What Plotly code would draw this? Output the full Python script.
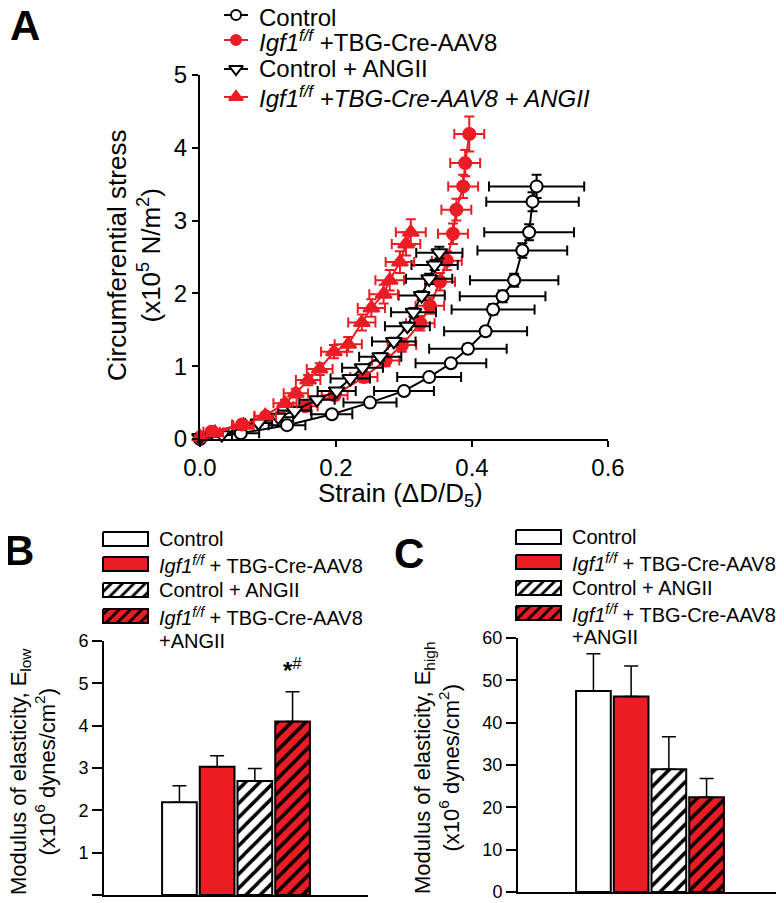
import plotly.graph_objects as go

W, H = 784, 903
OFF = 8  # page body margin: the figure div starts 8 px in from the window corner
FW, FH = W - OFF, H - OFF
RED = "#EC1C24"
FONT = "Arial, Liberation Sans, sans-serif"

# ---- panel A data: strain / stress curves (mean +- SEM)
ctrl_strain = [0.0, 0.060, 0.128, 0.194, 0.250, 0.300, 0.337, 0.369, 0.394, 0.420, 0.431, 0.445, 0.462, 0.474, 0.484, 0.489, 0.495]
ctrl_stress = [0.0, 0.08, 0.19, 0.34, 0.50, 0.66, 0.85, 1.04, 1.24, 1.48, 1.78, 1.96, 2.18, 2.59, 2.84, 3.26, 3.47]
ctrl_xerr = [0.0, 0.027, 0.027, 0.030, 0.039, 0.044, 0.047, 0.052, 0.057, 0.061, 0.061, 0.063, 0.065, 0.066, 0.066, 0.068, 0.070]
ctrl_yerr = [0.0, 0.02, 0.03, 0.03, 0.04, 0.04, 0.05, 0.05, 0.06, 0.06, 0.07, 0.08, 0.09, 0.10, 0.11, 0.13, 0.16]

igf_strain = [0.0, 0.017, 0.062, 0.097, 0.155, 0.198, 0.241, 0.273, 0.297, 0.324, 0.338, 0.353, 0.363, 0.372, 0.377, 0.387, 0.390, 0.396]
igf_stress = [0.02, 0.10, 0.20, 0.31, 0.45, 0.60, 0.85, 1.08, 1.29, 1.59, 1.83, 2.16, 2.45, 2.82, 3.15, 3.47, 3.79, 4.19]
igf_xerr = [0.005, 0.012, 0.015, 0.017, 0.018, 0.019, 0.020, 0.020, 0.021, 0.021, 0.021, 0.022, 0.022, 0.022, 0.022, 0.022, 0.022, 0.022]
igf_yerr = [0.0, 0.02, 0.03, 0.04, 0.05, 0.06, 0.07, 0.08, 0.09, 0.10, 0.11, 0.12, 0.13, 0.14, 0.15, 0.16, 0.18, 0.24]

ang_strain = [0.0, 0.032, 0.086, 0.115, 0.139, 0.172, 0.201, 0.221, 0.239, 0.265, 0.285, 0.305, 0.314, 0.326, 0.337, 0.345, 0.352]
ang_stress = [0.02, 0.06, 0.22, 0.30, 0.39, 0.54, 0.66, 0.83, 0.98, 1.13, 1.34, 1.55, 1.74, 1.97, 2.20, 2.39, 2.56]
ang_xerr = [0.008, 0.015, 0.020, 0.022, 0.024, 0.026, 0.028, 0.029, 0.030, 0.031, 0.032, 0.033, 0.033, 0.034, 0.034, 0.034, 0.034]
ang_yerr = [0.0, 0.02, 0.02, 0.03, 0.03, 0.03, 0.04, 0.04, 0.04, 0.05, 0.05, 0.05, 0.06, 0.06, 0.07, 0.07, 0.08]

igfang_strain = [0.0, 0.022, 0.064, 0.096, 0.125, 0.141, 0.159, 0.176, 0.197, 0.218, 0.238, 0.252, 0.270, 0.279, 0.294, 0.303, 0.310]
igfang_stress = [0.03, 0.09, 0.19, 0.32, 0.49, 0.63, 0.81, 0.96, 1.20, 1.30, 1.60, 1.80, 1.99, 2.18, 2.43, 2.68, 2.84]
igfang_xerr = [0.006, 0.012, 0.015, 0.016, 0.017, 0.018, 0.018, 0.019, 0.019, 0.020, 0.020, 0.020, 0.021, 0.021, 0.021, 0.021, 0.022]
igfang_yerr = [0.0, 0.02, 0.03, 0.04, 0.05, 0.06, 0.07, 0.08, 0.09, 0.10, 0.11, 0.12, 0.13, 0.14, 0.15, 0.16, 0.18]

# ---- panels B, C data: modulus of elasticity bars
groups = ["Control", "Igf1 f/f + TBG-Cre-AAV8", "Control + ANGII", "Igf1 f/f + TBG-Cre-AAV8 + ANGII"]
e_low = [2.19, 3.03, 2.69, 4.10]
e_low_err = [0.39, 0.26, 0.30, 0.70]
e_high = [47.5, 46.2, 29.0, 22.4]
e_high_err = [8.8, 7.2, 7.7, 4.4]

bar_colors = ["white", RED, "white", RED]
bar_hatch = ["", "", "/", "/"]


def px(x):
    return (x - OFF) / FW


def py(y):
    return 1 - (y - OFF) / FH


def hatch_style(shape, col, size):
    if not shape:
        return dict(shape="")
    return dict(shape=shape, fgcolor="black", bgcolor=col, fgopacity=1, size=size,
                solidity=0.35, fillmode="replace")


fig = go.Figure()

series = [
    (ctrl_strain, ctrl_stress, ctrl_xerr, ctrl_yerr, "black", "circle", "white", 12),
    (igf_strain, igf_stress, igf_xerr, igf_yerr, RED, "circle", RED, 12),
    (ang_strain, ang_stress, ang_xerr, ang_yerr, "black", "triangle-down", "white", 14),
    (igfang_strain, igfang_stress, igfang_xerr, igfang_yerr, RED, "triangle-up", RED, 14),
]
for sx, sy, ex, ey, col, sym, fill, size in series:
    fig.add_trace(go.Scatter(
        x=sx, y=sy, mode="lines+markers", xaxis="x", yaxis="y",
        line=dict(color=col, width=2),
        marker=dict(symbol=sym, size=size, color=fill, line=dict(color=col, width=2)),
        error_x=dict(type="data", array=ex, color=col, thickness=2, width=5),
        error_y=dict(type="data", array=ey, color=col, thickness=2, width=5),
        cliponaxis=False, showlegend=False,
    ))

# one bar trace per group so every bar keeps its own hatch settings
for vals, errs, xa, ya in [(e_low, e_low_err, "x2", "y2"), (e_high, e_high_err, "x3", "y3")]:
    for i in range(len(groups)):
        fig.add_trace(go.Bar(
            x=[i], y=[vals[i]], xaxis=xa, yaxis=ya, width=0.92, name=groups[i],
            marker=dict(color=bar_colors[i], line=dict(color="black", width=2),
                        pattern=hatch_style(bar_hatch[i], bar_colors[i], 10)),
            error_y=dict(type="data", array=[errs[i]], arrayminus=[0], symmetric=False,
                         color="black", thickness=1.5, width=7),
            showlegend=False,
        ))

# ---- legend glyphs drawn on a full-page overlay axis (window pixel units)
leg_a_rows = [15, 40, 69, 97]
for (sx, sy, ex, ey, col, sym, fill, size), ry in zip(series, leg_a_rows):
    fig.add_trace(go.Scatter(x=[224, 248], y=[ry, ry], mode="lines", xaxis="x4", yaxis="y4",
                             line=dict(color=col, width=2), showlegend=False))
    fig.add_trace(go.Scatter(x=[236], y=[ry], mode="markers", xaxis="x4", yaxis="y4",
                             marker=dict(symbol=sym, size=size - 2, color=fill,
                                         line=dict(color=col, width=2)), showlegend=False))

for x0, rows in [(103, [539, 564, 590, 616]), (516, [537, 562, 588, 613])]:
    for ry, col, hatch in zip(rows, bar_colors, bar_hatch):
        fig.add_trace(go.Scatter(
            x=[x0, x0 + 45, x0 + 45, x0, x0], y=[ry - 7, ry - 7, ry + 7, ry + 7, ry - 7],
            mode="lines", fill="toself", fillcolor=col, xaxis="x4", yaxis="y4",
            fillpattern=dict(shape=hatch, fgcolor="black", bgcolor=col, fgopacity=1, size=8,
                             solidity=0.35, fillmode="overlay"),
            line=dict(color="black", width=2), showlegend=False))

ann = []


def text(x, y, s, size, xanchor="left", angle=0):
    ann.append(dict(x=px(x), y=py(y), xref="paper", yref="paper", text=s, showarrow=False,
                    xanchor=xanchor, yanchor="middle", textangle=angle, borderpad=0,
                    font=dict(size=size, color="black", family=FONT)))


# panel letters
text(25, 25, "<b>A</b>", 42, "center")
text(19, 550, "<b>B</b>", 42, "center")
text(409, 553, "<b>C</b>", 42, "center")

# panel A legend
igf = "<i>Igf1<sup>f/f</sup></i>"
text(258, 17, "Control", 24)
text(258, 41, igf + " +TBG-Cre-AAV8", 24)
text(258, 69, "Control + ANGII", 24)
text(258, 97, "<i>Igf1<sup>f/f</sup> +TBG-Cre-AAV8 + ANGII</i>", 24)

# panel B / C legends
for x0, rows, y5 in [(158, [539, 564, 590, 616], 641), (571, [537, 562, 588, 613], 637)]:
    text(x0, rows[0], "Control", 20)
    text(x0, rows[1], igf + " + TBG-Cre-AAV8", 20)
    text(x0, rows[2], "Control + ANGII", 20)
    text(x0, rows[3], igf + " + TBG-Cre-AAV8", 20)
    text(x0, y5, "+ANGII", 20)

# axis titles
text(134, 256, "Circumferential stress<br>(x10<sup>5</sup> N/m<sup>2</sup>)", 26, "center", -90)
text(400, 494, "Strain (ΔD/D<sub>5</sub>)", 26, "center")
text(33, 772, "Modulus of elasticity, E<sub>low</sub><br>(x10<sup>6</sup> dynes/cm<sup>2</sup>)", 22, "center", -90)
text(437, 768, "Modulus of elasticity, E<sub>high</sub><br>(x10<sup>6</sup> dynes/cm<sup>2</sup>)", 22, "center", -90)

ann.append(dict(x=3, y=5.35, xref="x2", yref="y2", text="<b>*</b><sup>#</sup>", showarrow=False,
                font=dict(size=24, color="black", family=FONT)))

axis_common = dict(showgrid=False, zeroline=False, showline=True, linecolor="black", linewidth=2,
                   ticks="outside", tickcolor="black", tickwidth=2, color="black", automargin=False)
flat_x = dict(showticklabels=False, showgrid=False, zeroline=False, showline=True,
              linecolor="black", linewidth=2, ticks="", automargin=False)

fig.update_layout(
    template="none", barmode="overlay",
    width=FW, height=FH, margin=dict(l=0, r=0, t=0, b=0, autoexpand=False),
    paper_bgcolor="white", plot_bgcolor="rgba(0,0,0,0)",
    font=dict(family=FONT, color="black"),
    annotations=ann,
    xaxis=dict(domain=[px(200), px(608)], range=[0, 0.6], anchor="y",
               tickvals=[0, 0.2, 0.4, 0.6], ticktext=["0.0", "0.2", "0.4", "0.6"],
               ticklen=6, tickfont=dict(size=24), **axis_common),
    yaxis=dict(domain=[py(439), py(75)], range=[0, 5], anchor="x", dtick=1,
               ticklen=6, tickfont=dict(size=24), **axis_common),
    xaxis2=dict(domain=[px(104), px(368)], range=[-2, 5], anchor="y2", **flat_x),
    yaxis2=dict(domain=[py(895), py(641)], range=[0, 6], anchor="x2", dtick=1,
                ticklen=10, tickfont=dict(size=18), **axis_common),
    xaxis3=dict(domain=[px(518), px(782)], range=[-2, 5], anchor="y3", **flat_x),
    yaxis3=dict(domain=[py(892), py(638)], range=[0, 60], anchor="x3", dtick=10,
                ticklen=10, tickfont=dict(size=18), **axis_common),
    xaxis4=dict(domain=[0, 1], range=[OFF, W], anchor="y4", visible=False, fixedrange=True,
                automargin=False),
    yaxis4=dict(domain=[0, 1], range=[H, OFF], anchor="x4", visible=False, fixedrange=True,
                automargin=False),
)

fig.write_html("out.html")
